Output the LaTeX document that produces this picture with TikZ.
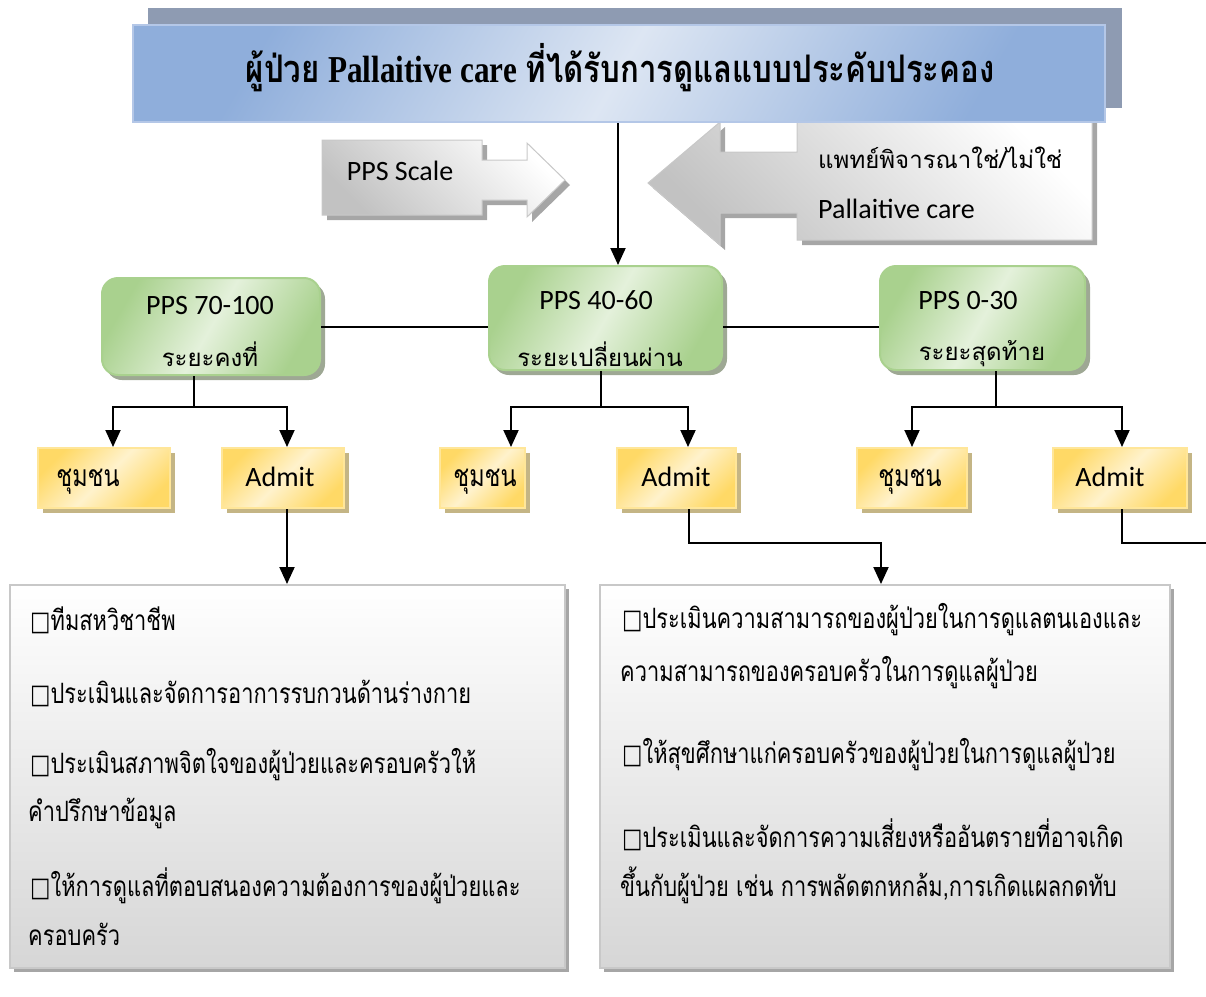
\documentclass[tikz,border=0pt]{standalone}
\usepackage{fontspec}
\usetikzlibrary{arrows.meta,shadings}
\setmainfont{Carlito}
\newfontfamily\thai[Script=Thai]{Loma}
\newfontfamily\thaitall[Script=Thai,FakeStretch=0.78]{Loma}
\newfontfamily\tnrtall[FakeStretch=0.82]{Liberation Serif}
\newfontfamily\thaititle[Script=Thai,FakeStretch=0.82]{Loma}
\newfontfamily\sym[FakeStretch=0.8]{DejaVu Sans}
\definecolor{tDark}{HTML}{8FAEDB}
\definecolor{tLight}{HTML}{DDE6F3}
\definecolor{tBorder}{HTML}{B4C7E7}
\definecolor{tShadow}{HTML}{8E9BB2}
\definecolor{gDark}{HTML}{A9D18E}
\definecolor{gLight}{HTML}{E4F1DB}
\definecolor{gShadow}{HTML}{9EA894}
\definecolor{yDark}{HTML}{FFD966}
\definecolor{yLight}{HTML}{FFF2CC}
\definecolor{yBorder}{HTML}{FFE699}
\definecolor{yShadow}{HTML}{C4B585}
\definecolor{bBorder}{HTML}{C8C8C8}
\definecolor{bShadow}{HTML}{A6A6A6}
\definecolor{bBottom}{HTML}{D6D6D6}
\tikzset{
  conn/.style={line width=2pt, black},
  arr/.style={conn, -{Triangle[width=15pt,length=17pt]}},
  titlebox/.style={draw=tBorder, line width=2pt, left color=tDark, right color=tDark, middle color=tLight, shading angle=60},
  greenbox/.style={draw=gDark, line width=2pt, rounded corners=16pt, left color=gDark, right color=gDark, middle color=gLight, shading angle=60},
  greenshadow/.style={fill=gShadow, rounded corners=16pt},
  yellowbox/.style={draw=yBorder, line width=2pt, left color=yDark, right color=yDark, middle color=yLight, shading angle=45},
  yellowshadow/.style={fill=yShadow},
  bigbox/.style={draw=bBorder, line width=2pt, top color=white, bottom color=bBottom},
  bigshadow/.style={fill=bShadow},
  callout/.style={draw=bBorder, line width=1pt, left color=white, right color=black!24, shading angle=-45},
  lbl/.style={inner sep=0pt, font=\fontsize{28}{32}\selectfont},
  thlbl/.style={inner sep=0pt, font=\thai\fontsize{24}{28}\selectfont},
  thtall/.style={inner sep=0pt, font=\thaitall\fontsize{30}{34}\selectfont},
  body/.style={inner sep=0pt, anchor=west, font=\thaitall\fontsize{28}{32}\selectfont},
}
\newcommand{\chk}{{\sym\fontsize{27}{28}\selectfont □}}
\begin{document}
\begin{tikzpicture}[x=1pt,y=-1pt]
\useasboundingbox (0,0) rectangle (1206,996);

% right callout (behind title)
\fill[bShadow] (1097,120) -- (1097,245) -- (802,245) -- (802,218) -- (725,218) -- (725,250) -- (653,188) -- (725,127) -- (725,157) -- (802,157) -- (802,120) -- cycle;
\path[callout] (1092,115) -- (1092,240) -- (797,240) -- (797,213) -- (720,213) -- (720,245) -- (648,183) -- (720,122) -- (720,152) -- (797,152) -- (797,115) -- cycle;
\node[thlbl, anchor=west] (rc1) at (818,158) {แพทย์พิจารณาใช่/ไม่ใช่};
\node[lbl, anchor=west] (rc2) at (818,209) {Pallaitive care};

% title
\fill[tShadow] (148,8) rectangle (1122,108);
\node[titlebox, minimum width=972pt, minimum height=97pt] (title) at (619,73.5) {};
\node[inner sep=0pt, font=\fontsize{38}{40}\selectfont] (titletext) at (620,68)
  {{\thaititle\bfseries ผู้ป่วย} {\tnrtall\bfseries Pallaitive care} {\thaititle\bfseries ที่ได้รับการดูแลแบบประคับประคอง}};

% PPS Scale callout
\fill[bShadow] (327,145) -- (487,145) -- (487,165) -- (532,165) -- (532,148) -- (570,185) -- (532,222) -- (532,205) -- (487,205) -- (487,220) -- (327,220) -- cycle;
\path[callout] (322,140) -- (482,140) -- (482,160) -- (527,160) -- (527,143) -- (565,180) -- (527,217) -- (527,200) -- (482,200) -- (482,215) -- (322,215) -- cycle;
\node[lbl] (ppsscale) at (400,171) {PPS Scale};

% green boxes
\fill[greenshadow] (106,283) rectangle (325,380);
\fill[greenshadow] (493,271) rectangle (727,375);
\fill[greenshadow] (884,271) rectangle (1090,375);
\node[greenbox, minimum width=218pt, minimum height=97pt] (g1) at (211,326.5) {};
\node[greenbox, minimum width=233pt, minimum height=104pt] (g2) at (605.5,318) {};
\node[greenbox, minimum width=205pt, minimum height=104pt] (g3) at (982.5,318) {};
\node[lbl] (g1a) at (210,306) {PPS 70-100};
\node[thlbl] (g1b) at (210,354) {ระยะคงที่};
\node[lbl] (g2a) at (596,300) {PPS 40-60};
\node[thlbl] (g2b) at (600,354) {ระยะเปลี่ยนผ่าน};
\node[lbl] (g3a) at (968,301) {PPS 0-30};
\node[thlbl] (g3b) at (982,354) {ระยะสุดท้าย};

% yellow boxes
\foreach \xa/\xb in {38/170, 222/344, 440/525, 617/736, 857/967, 1053/1187}
  \fill[yellowshadow] (\xa+5,453) rectangle (\xb+5,513);
\node[yellowbox, minimum width=132pt, minimum height=60pt] (y1) at (104,478) {};
\node[yellowbox, minimum width=122pt, minimum height=60pt] (y2) at (283,478) {};
\node[yellowbox, minimum width=85pt, minimum height=60pt] (y3) at (482.5,478) {};
\node[yellowbox, minimum width=119pt, minimum height=60pt] (y4) at (676.5,478) {};
\node[yellowbox, minimum width=110pt, minimum height=60pt] (y5) at (912,478) {};
\node[yellowbox, minimum width=134pt, minimum height=60pt] (y6) at (1120,478) {};
\node[thtall] (y1t) at (88,482) {ชุมชน};
\node[lbl] (y2t) at (280,477) {Admit};
\node[thtall] (y3t) at (485,482) {ชุมชน};
\node[lbl] (y4t) at (676,477) {Admit};
\node[thtall] (y5t) at (910,482) {ชุมชน};
\node[lbl] (y6t) at (1110,477) {Admit};

% bottom boxes
\fill[bigshadow] (14,589) rectangle (569,972);
\fill[bigshadow] (604,589) rectangle (1174,972);
\node[bigbox, minimum width=555pt, minimum height=383pt] (b1) at (287.5,776.5) {};
\node[bigbox, minimum width=570pt, minimum height=383pt] (b2) at (885,776.5) {};

\node[body] (b1l1) at (30,620) {\chk ทีมสหวิชาชีพ};
\node[body] (b1l2) at (30,693) {\chk ประเมินและจัดการอาการรบกวนด้านร่างกาย};
\node[body] (b1l3) at (30,765) {\chk ประเมินสภาพจิตใจของผู้ป่วยและครอบครัวให้};
\node[body] (b1l4) at (28,813) {คำปรึกษาข้อมูล};
\node[body] (b1l5) at (30,886) {\chk ให้การดูแลที่ตอบสนองความต้องการของผู้ป่วยและ};
\node[body] (b1l6) at (28,934) {ครอบครัว};

\node[body] (b2l1) at (622,620) {\chk ประเมินความสามารถของผู้ป่วยในการดูแลตนเองและ};
\node[body] (b2l2) at (620,673) {ความสามารถของครอบครัวในการดูแลผู้ป่วย};
\node[body] (b2l3) at (622,755) {\chk ให้สุขศึกษาแก่ครอบครัวของผู้ป่วยในการดูแลผู้ป่วย};
\node[body] (b2l4) at (622,835) {\chk ประเมินและจัดการความเสี่ยงหรืออันตรายที่อาจเกิด};
\node[body] (b2l5) at (620,885) {ขึ้นกับผู้ป่วย เช่น การพลัดตกหกล้ม,การเกิดแผลกดทับ};

% connectors
\coordinate (tA) at (618,0);
\draw[arr] (title.south -| tA) -- (g2.north -| tA);
\draw[conn] (g1.east) -- (g2.west |- g1.east);
\draw[conn] (g2.east |- g1.east) -- (g3.west |- g1.east);

\coordinate (c1) at (194,407);
\draw[conn] (g1.south -| c1) -- (c1);
\draw[arr] (c1) -| (y1.north -| 113,0);
\draw[arr] (c1) -| (y2.north -| 287,0);

\coordinate (c2) at (601,407);
\draw[conn] (g2.south -| c2) -- (c2);
\draw[arr] (c2) -| (y3.north -| 511,0);
\draw[arr] (c2) -| (y4.north -| 688,0);

\coordinate (c3) at (996,407);
\draw[conn] (g3.south -| c3) -- (c3);
\draw[arr] (c3) -| (y5.north -| 912,0);
\draw[arr] (c3) -| (y6.north -| 1122,0);

\coordinate (a2) at (287,0);
\draw[arr] (y2.south -| a2) -- (b1.north -| a2);
\coordinate (a4) at (689,543);
\draw[arr] (y4.south -| a4) -- (a4) -| (b2.north -| 881,0);
\coordinate (a6) at (1122,543);
\coordinate (a6e) at (1206,543);
\draw[conn] (y6.south -| a6) -- (a6) -- (a6e);
\end{tikzpicture}
\end{document}
